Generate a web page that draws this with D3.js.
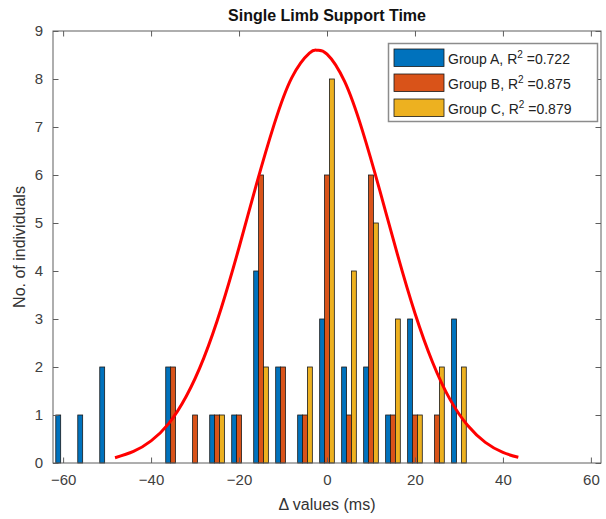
<!DOCTYPE html>
<html>
<head>
<meta charset="utf-8">
<script src="https://cdn.jsdelivr.net/npm/d3@7"></script>
<style>
  body { margin: 0; background: #fff; }
  text { font-family: "Liberation Sans", Arial, Helvetica, sans-serif; }
</style>
</head>
<body>
<div id="chart"></div>
<script>
// bin centres (ms)
var bins = [-60, -55, -50, -45, -40, -35, -30, -25, -20, -15, -10, -5, 0, 5, 10, 15, 20, 25, 30];
var groupA = [1, 1, 2, 0, 0, 2, 0, 1, 1, 4, 2, 1, 3, 2, 2, 1, 3, 0, 3];
var groupB = [0, 0, 0, 0, 0, 2, 1, 1, 1, 6, 2, 1, 6, 1, 6, 1, 1, 1, 0];
var groupC = [0, 0, 0, 0, 0, 0, 0, 1, 0, 2, 0, 2, 8, 4, 5, 3, 1, 2, 2];
var seriesNames = ["Group A", "Group B", "Group C"];
var r2 = ["0.722", "0.875", "0.879"];
var xTicks = [-60, -40, -20, 0, 20, 40, 60];
var yTicks = [0, 1, 2, 3, 4, 5, 6, 7, 8, 9];
// fitted normal curve
var fitX = [-48.2, -44, -40, -36, -32, -28, -24, -20, -16, -12, -8, -4, -2.2, 0, 4, 8, 12, 16, 20, 24, 28, 32, 36, 40, 43.5];
var fitY = [0.11, 0.24, 0.46, 0.82, 1.39, 2.19, 3.24, 4.49, 5.82, 7.06, 8.03, 8.54, 8.60, 8.52, 7.95, 6.94, 5.68, 4.35, 3.12, 2.10, 1.32, 0.78, 0.43, 0.22, 0.12];

var colors = ["#0072BD", "#D95319", "#EDB120"];

var W = 606, H = 519;
var margin = {top: 31, right: 5, bottom: 56, left: 53};
var width = W - margin.left - margin.right,
    height = H - margin.top - margin.bottom;

var svg = d3.select("#chart").append("svg")
    .attr("width", W).attr("height", H);

var g = svg.append("g")
    .attr("transform", "translate(" + margin.left + "," + margin.top + ")");

var x = d3.scaleLinear().domain([-62.3, 62.3]).range([0, width]);
var y = d3.scaleLinear().domain([0, 9]).range([height, 0]);

var binW = 5 * 0.667;
var xSub = d3.scaleBand()
    .domain(seriesNames)
    .range([0, x(binW) - x(0)])
    .padding(0);

var rows = bins.map(function (b, i) {
    return {bin: b, values: [groupA[i], groupB[i], groupC[i]]};
});

// bars
g.append("g")
    .selectAll("g")
    .data(rows)
    .enter().append("g")
    .attr("transform", function (d) {
        return "translate(" + (x(d.bin) - (x(binW) - x(0)) / 2) + ",0)";
    })
    .selectAll("rect")
    .data(function (d) {
        return seriesNames.map(function (k, j) { return {key: k, j: j, value: d.values[j]}; })
            .filter(function (e) { return e.value > 0; });
    })
    .enter().append("rect")
    .attr("x", function (d) { return xSub(d.key); })
    .attr("y", function (d) { return y(d.value); })
    .attr("width", xSub.bandwidth())
    .attr("height", function (d) { return height - y(d.value); })
    .attr("fill", function (d) { return colors[d.j]; })
    .attr("stroke", "#1a1a1a")
    .attr("stroke-width", 0.8);

// fit curve
var pts = fitX.map(function (v, i) { return [v, fitY[i]]; });
g.append("path")
    .datum(pts)
    .attr("fill", "none")
    .attr("stroke", "#ff0000")
    .attr("stroke-width", 3)
    .attr("d", d3.line()
        .x(function (d) { return x(d[0]); })
        .y(function (d) { return y(d[1]); })
        .curve(d3.curveNatural));

// axes (MATLAB style: ticks inward, box on)
var axisColor = "#5e5e5e";
var tickLen = 5.5;

function styleAxis(sel) {
    sel.select(".domain").remove();
    sel.selectAll(".tick line").attr("stroke", axisColor);
    sel.selectAll(".tick text")
        .attr("fill", "#404040")
        .style("font-size", "15px")
        .style("font-family", "'Liberation Sans', Arial, sans-serif");
}

g.append("g")
    .attr("transform", "translate(0," + height + ")")
    .call(d3.axisBottom(x).tickValues(xTicks).tickSizeInner(-tickLen).tickSizeOuter(0).tickPadding(11).tickFormat(d3.format("d")))
    .call(styleAxis);

g.append("g")
    .call(d3.axisTop(x).tickValues(xTicks).tickSizeInner(-tickLen).tickSizeOuter(0).tickFormat(""))
    .call(styleAxis);

g.append("g")
    .call(d3.axisLeft(y).tickValues(yTicks).tickSizeInner(-tickLen).tickSizeOuter(0).tickPadding(10).tickFormat(d3.format("d")))
    .call(styleAxis);

g.append("g")
    .attr("transform", "translate(" + width + ",0)")
    .call(d3.axisRight(y).tickValues(yTicks).tickSizeInner(-tickLen).tickSizeOuter(0).tickFormat(""))
    .call(styleAxis);

g.append("rect")
    .attr("x", 0).attr("y", 0)
    .attr("width", width).attr("height", height)
    .attr("fill", "none")
    .attr("stroke", axisColor)
    .attr("stroke-width", 1);

// title and axis labels
svg.append("text")
    .attr("x", margin.left + x(0)).attr("y", 21)
    .attr("text-anchor", "middle")
    .style("font-size", "16px").style("font-weight", "bold")
    .attr("fill", "#111")
    .text("Single Limb Support Time");

svg.append("text")
    .attr("x", margin.left + x(0)).attr("y", 510)
    .attr("text-anchor", "middle")
    .style("font-size", "16px")
    .attr("fill", "#333")
    .text("\u0394 values (ms)");

svg.append("text")
    .attr("transform", "translate(25," + (margin.top + height / 2) + ") rotate(-90)")
    .attr("text-anchor", "middle")
    .style("font-size", "16px")
    .attr("fill", "#333")
    .text("No. of individuals");

// legend
var lg = svg.append("g").attr("transform", "translate(388,43)");
lg.append("rect")
    .attr("x", 0.5).attr("y", 0.5)
    .attr("width", 209).attr("height", 78)
    .attr("fill", "#fff")
    .attr("stroke", "#8c8c8c")
    .attr("stroke-width", 1.5);

var items = lg.selectAll("g.item")
    .data(seriesNames)
    .enter().append("g")
    .attr("class", "item")
    .attr("transform", function (d, i) { return "translate(0," + (6 + i * 25) + ")"; });

items.append("rect")
    .attr("x", 6).attr("y", 0)
    .attr("width", 50).attr("height", 17.5)
    .attr("fill", function (d, i) { return colors[i]; })
    .attr("stroke", "#1a1a1a")
    .attr("stroke-width", 0.8);

var lt = items.append("text")
    .attr("x", 60).attr("y", 15)
    .style("font-size", "14px")
    .attr("fill", "#222");
lt.append("tspan").text(function (d) { return d + ", R"; });
lt.append("tspan").attr("dy", -6).style("font-size", "10px").text("2");
lt.append("tspan").attr("dy", 6).text(function (d, i) { return " =" + r2[i]; });
</script>
</body>
</html>
